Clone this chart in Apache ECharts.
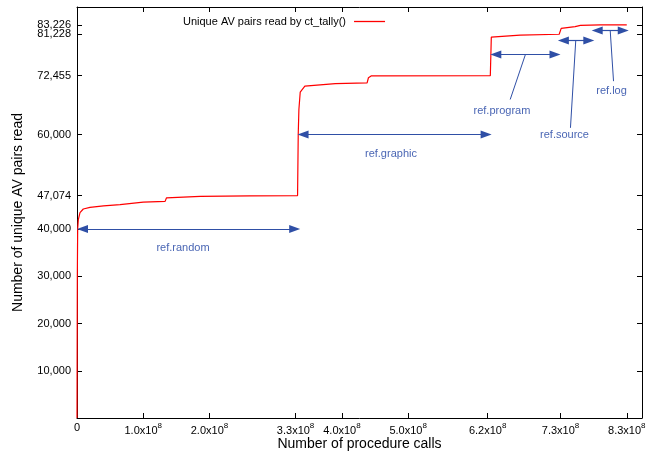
<!DOCTYPE html>
<html>
<head>
<meta charset="utf-8">
<script src="https://cdn.jsdelivr.net/npm/echarts@6/dist/echarts.min.js"></script>
<style>html,body{margin:0;padding:0;background:#fff}#c{width:653px;height:452px}</style>
</head>
<body>
<div id="c"></div>
<script>
// Data (x = number of procedure calls, y = unique AV pairs read)
const calls = [0, 0.5e6, 1e6, 2e6, 4.5e6, 9.5e6, 19.6e6, 40e6, 65e6, 67e6, 100e6, 133e6, 135e6, 186e6, 261e6, 333e6, 334e6, 335e6, 337e6, 340e6, 344e6, 390e6, 438e6, 440e6, 444e6, 624e6, 625.5e6, 628.5e6, 669e6, 728e6, 731e6, 752e6, 760e6, 790e6, 830e6];
const pairs = [0, 30000, 40000, 42000, 43460, 44240, 44580, 44900, 45160, 45520, 45700, 45860, 46580, 46920, 47020, 47074, 60000, 65300, 68960, 69180, 70240, 70800, 70950, 72020, 72400, 72455, 80620, 80840, 81050, 81228, 82470, 82830, 83100, 83200, 83226];

const xTicks = [0, 1.0e8, 2.0e8, 3.3e8, 4.0e8, 5.0e8, 6.2e8, 7.3e8, 8.3e8];
const yTicks = [10000, 20000, 30000, 40000, 47074, 60000, 72455, 81228, 83226];
const yTicksMain = [10000, 20000, 30000, 40000, 47074, 60000, 72455, 81228];
const yTicksTop = [83226];

const seriesName = 'Unique AV pairs read by ct_tally()';

// Annotation arrows (tip to tip): [x1, x2, y]
const arrowNames = ['ref.random', 'ref.graphic', 'ref.program', 'ref.source', 'ref.log'];
const arrowX1 = [0, 3.33e8, 6.24e8, 7.26e8, 7.77e8];
const arrowX2 = [3.37e8, 6.26e8, 7.30e8, 7.81e8, 8.33e8];
const arrowY = [40000, 60000, 76950, 79920, 82040];
// Annotation labels
const labelX = [1.6e8, 4.74e8, 6.415e8, 7.36e8, 8.07e8];
const labelY = [36040, 55900, 65080, 59850, 69180];
// Leader lines (null = none)
const leaderFromX = [null, null, 6.77e8, 7.53e8, 8.05e8];
const leaderFromY = [null, null, 76950, 79920, 82040];
const leaderToX = [null, null, 6.54e8, 7.45e8, 8.10e8];
const leaderToY = [null, null, 67420, 61420, 71300];

const FONT = 'Liberation Sans, Arial, sans-serif';
const annColor = '#2f4fa6';
const annText = '#4a66b4';
const X_MAX = 8.53e8;
const Y_MAX = 87000;
const PLOT_W = 565;
const HEAD_LEN = 11;

const chart = echarts.init(document.getElementById('c'), null, {renderer: 'canvas'});

function fmtY(v) {
  return String(Math.round(v)).replace(/\B(?=(\d{3})+(?!\d))/g, ',');
}
function fmtX(v) {
  if (v === 0) return '{m|0}';
  return '{m|' + (v / 1e8).toFixed(1) + 'x10}{s|8}';
}

// triangle symbols are centred on line ends: pull ends in by half a head
const inset = (HEAD_LEN / 2) * X_MAX / PLOT_W;
const arrowData = arrowNames.map((n, i) => [
  {coord: [arrowX1[i] + inset, arrowY[i]]},
  {coord: [arrowX2[i] - inset, arrowY[i]]}
]);
const leaderData = [];
arrowNames.forEach((n, i) => {
  if (leaderFromX[i] !== null) {
    leaderData.push([
      {coord: [leaderFromX[i], leaderFromY[i]]},
      {coord: [leaderToX[i], leaderToY[i]]}
    ]);
  }
});
const labelData = arrowNames.map((n, i) => ({name: n, coord: [labelX[i], labelY[i]], value: n}));

const axisLineStyle = {color: '#000', width: 1};
const yLabelStyle = {formatter: fmtY, margin: 6, fontFamily: FONT, fontSize: 11, color: '#000', hideOverlap: false};

chart.setOption({
  animation: false,
  backgroundColor: '#fff',
  grid: {left: 77, right: 11, top: 7, bottom: 34, containLabel: false, outerBoundsMode: 'none'},
  legend: {
    data: [seriesName],
    left: 178,
    top: 11,
    align: 'right',
    itemWidth: 31,
    itemHeight: 12,
    icon: 'path://M0,0 L31,0 L31,1.3 L0,1.3 Z',
    textStyle: {fontFamily: FONT, fontSize: 11, color: '#000', padding: [0, 3, 0, 0]}
  },
  xAxis: [{
    type: 'value', min: 0, max: X_MAX, position: 'bottom',
    name: 'Number of procedure calls', nameLocation: 'middle', nameGap: 19, nameMoveOverlap: false,
    nameTextStyle: {fontFamily: FONT, fontSize: 14, color: '#000'},
    axisLine: {show: true, onZero: false, lineStyle: axisLineStyle},
    axisTick: {show: true, inside: true, length: 5, customValues: xTicks, lineStyle: axisLineStyle},
    axisLabel: {
      customValues: xTicks, formatter: fmtX, margin: 4, color: '#000', hideOverlap: false,
      rich: {
        m: {fontFamily: FONT, fontSize: 11, color: '#000', verticalAlign: 'bottom'},
        s: {fontFamily: FONT, fontSize: 8, color: '#000', padding: [0, 0, 6, 0], verticalAlign: 'bottom'}
      }
    },
    splitLine: {show: false}
  }, {
    type: 'value', min: 0, max: X_MAX, position: 'top',
    axisLine: {show: true, onZero: false, lineStyle: axisLineStyle},
    axisTick: {show: true, inside: true, length: 5, customValues: xTicks.slice(1), lineStyle: axisLineStyle},
    axisLabel: {show: false},
    splitLine: {show: false}
  }],
  yAxis: [{
    type: 'value', min: 0, max: Y_MAX, position: 'left',
    name: 'Number of unique AV pairs read', nameLocation: 'middle', nameGap: 52, nameRotate: 90,
    nameTextStyle: {fontFamily: FONT, fontSize: 14, color: '#000'},
    axisLine: {show: true, onZero: false, lineStyle: axisLineStyle},
    axisTick: {show: true, inside: true, length: 5, customValues: yTicks, lineStyle: axisLineStyle},
    axisLabel: Object.assign({customValues: yTicksMain}, yLabelStyle),
    splitLine: {show: false}
  }, {
    type: 'value', min: 0, max: Y_MAX, position: 'right',
    axisLine: {show: true, onZero: false, lineStyle: axisLineStyle},
    axisTick: {show: true, inside: true, length: 5, customValues: yTicks, lineStyle: axisLineStyle},
    axisLabel: {show: false},
    splitLine: {show: false}
  }, {
    type: 'value', min: 0, max: Y_MAX, position: 'left', offset: 0,
    axisLine: {show: false, onZero: false},
    axisTick: {show: false},
    axisLabel: Object.assign({customValues: yTicksTop}, yLabelStyle),
    splitLine: {show: false}
  }],
  series: [{
    name: seriesName,
    type: 'line',
    xAxisIndex: 0, yAxisIndex: 0,
    data: calls.map((x, i) => [x, pairs[i]]),
    showSymbol: false,
    symbol: 'none',
    color: '#ff0000',
    lineStyle: {color: '#ff0000', width: 1.2},
    z: 3
  }, {
    name: 'annotations',
    type: 'line',
    xAxisIndex: 0, yAxisIndex: 0,
    data: [],
    z: 4,
    markLine: {
      silent: true,
      animation: false,
      symbol: ['triangle', 'triangle'],
      symbolSize: [8, HEAD_LEN],
      label: {show: false},
      lineStyle: {color: annColor, width: 1.2, type: 'solid'},
      emphasis: {disabled: true},
      data: arrowData
    },
    markPoint: {
      silent: true,
      symbol: 'circle',
      symbolSize: 0,
      label: {show: true, position: 'inside', formatter: p => p.name, fontFamily: FONT, fontSize: 11, color: annText},
      data: labelData
    }
  }, {
    name: 'leaders',
    type: 'line',
    xAxisIndex: 0, yAxisIndex: 0,
    data: [],
    z: 4,
    markLine: {
      silent: true,
      animation: false,
      symbol: ['none', 'none'],
      label: {show: false},
      lineStyle: {color: annColor, width: 1, type: 'solid'},
      emphasis: {disabled: true},
      data: leaderData
    }
  }]
});
</script>
</body>
</html>
